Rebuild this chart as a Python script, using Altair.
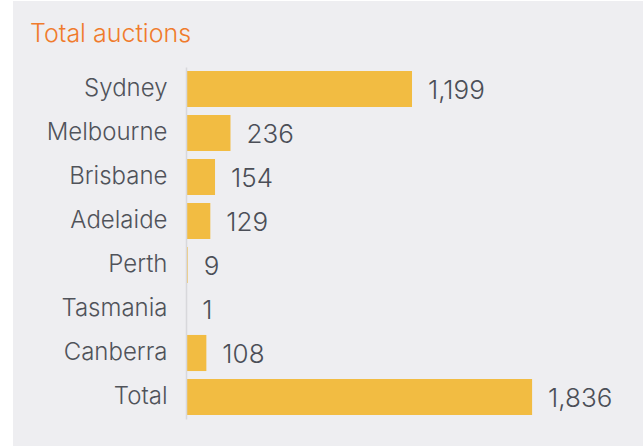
import altair as alt
import pandas as pd

categories = ["Sydney", "Melbourne", "Brisbane", "Adelaide", "Perth", "Tasmania", "Canberra", "Total"]
values = [1199, 236, 154, 129, 9, 1, 108, 1836]
labels = ["1,199", "236", "154", "129", "9", "1", "108", "1,836"]

df = pd.DataFrame({"city": categories, "auctions": values, "label": labels})

FONT = "Inter"
W, H = 377, 352

bg = alt.Chart(pd.DataFrame({"a": [0]})).mark_rect(color="#eeeef1").encode(
    x=alt.value(-173), x2=alt.value(W + 80), y=alt.value(-66), y2=alt.value(H + 40)
)

base = alt.Chart(df).encode(
    y=alt.Y("city:N", sort=categories, title=None,
            scale=alt.Scale(paddingInner=0.18, paddingOuter=0.09),
            axis=alt.Axis(labelFont=FONT, labelFontSize=24, labelColor="#50535a",
                          labelPadding=19, ticks=False, domainColor="#d8d8dc",
                          domainWidth=1.5, labelFontWeight=300, zindex=1)),
    x=alt.X("auctions:Q", title=None, scale=alt.Scale(domain=[0, 2000]), axis=None),
)

bars = base.mark_bar(color="#f2bc42")
text = base.mark_text(align="left", baseline="middle", dx=16, dy=2, font=FONT,
                      fontSize=26, color="#4b4e57", fontWeight=300).encode(text="label:N")

chart = alt.layer(bg, bars, text).properties(
    width=W, height=H,
    padding={"left": 186, "top": 67, "right": 644 - 186 - W, "bottom": 446 - 67 - H},
    autosize=alt.AutoSizeParams(type="none"),
    background="white",
    title=alt.TitleParams("Total auctions", anchor="start", frame="group", dx=-156, font=FONT,
                          fontSize=25, color="#f07b2c", fontWeight=300,
                          baseline="alphabetic", offset=0, dy=66, zindex=1),
).configure_view(stroke=None)

chart.save("out.html", embed_options={"renderer": "svg", "actions": False})
